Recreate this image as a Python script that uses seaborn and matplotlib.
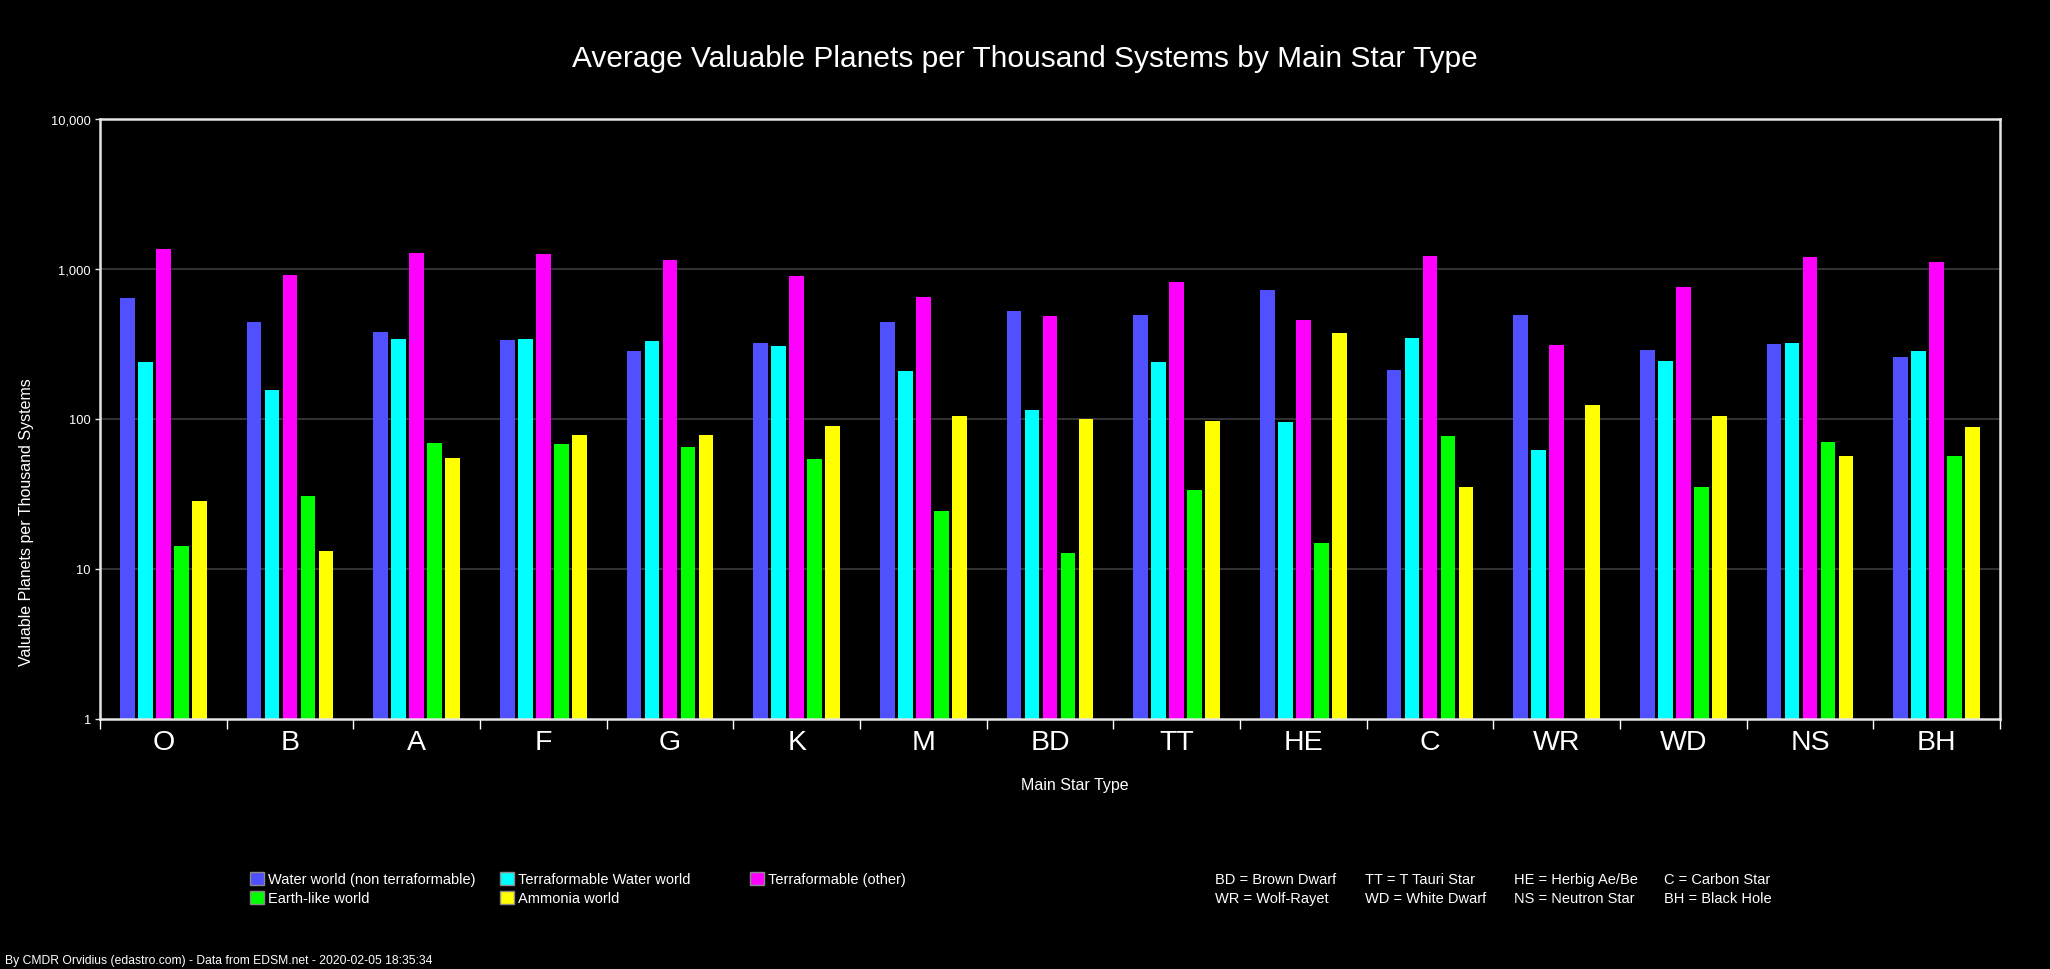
import numpy as np
import pandas as pd
import matplotlib
matplotlib.use("Agg")
import matplotlib.pyplot as plt
from matplotlib.ticker import FixedLocator, FuncFormatter, NullLocator
from matplotlib.patches import Patch
import seaborn as sns

# ---------------- data ----------------
star_types = ["O", "B", "A", "F", "G", "K", "M", "BD", "TT", "HE", "C", "WR", "WD", "NS", "BH"]
series_names = ["Water world (non terraformable)", "Terraformable Water world",
                "Terraformable (other)", "Earth-like world", "Ammonia world"]
water_world = [644, 445, 382, 338, 285, 323, 445, 527, 496, 728, 213, 496, 290, 318, 260]
terraformable_water = [241, 157, 343, 343, 333, 308, 210, 115, 241, 96, 348, 62.4, 245, 323, 285]
terraformable_other = [1365, 916, 1283, 1265, 1153, 902, 653, 488, 823, 459, 1227, 313, 762, 1208, 1118]
earth_like = [14.3, 30.8, 69.5, 68.4, 65.3, 54.4, 24.5, 12.8, 33.8, 15.0, 77.4, np.nan, 35.4, 70.6, 56.9]
ammonia = [28.5, 13.2, 55.2, 78.5, 78.5, 90.2, 105, 100, 97.5, 376, 35.4, 124, 105, 56.9, 88.9]
series_colors = ["#5050FF", "#00FFFF", "#FF00FF", "#00FF00", "#FFFF00"]
y_ticks = [1, 10, 100, 1000, 10000]
abbrev_row1 = ["BD = Brown Dwarf", "TT = T Tauri Star", "HE = Herbig Ae/Be", "C = Carbon Star"]
abbrev_row2 = ["WR = Wolf-Rayet", "WD = White Dwarf", "NS = Neutron Star", "BH = Black Hole"]

title = "Average Valuable Planets per Thousand Systems by Main Star Type"
y_label = "Valuable Planets per Thousand Systems"
x_label = "Main Star Type"
footer = "By CMDR Orvidius (edastro.com) - Data from EDSM.net - 2020-02-05 18:35:34"

series_values = [water_world, terraformable_water, terraformable_other, earth_like, ammonia]
rows = []
for name, vals in zip(series_names, series_values):
    for st, v in zip(star_types, vals):
        rows.append({"star": st, "series": name, "value": v})
df = pd.DataFrame(rows)

# ---------------- style ----------------
sns.set_style("dark")
plt.rcParams["font.family"] = ["Liberation Sans", "DejaVu Sans"]
plt.rcParams["text.color"] = "white"

W, H = 2050, 970
fig = plt.figure(figsize=(W / 100, H / 100), dpi=100, facecolor="black")
ax = fig.add_axes([100 / W, 1 - 720 / H, 1900 / W, 600 / H])
ax.set_facecolor("black")

sns.barplot(data=df, x="star", y="value", hue="series", order=star_types,
            hue_order=series_names, palette=series_colors, saturation=1,
            width=0.71, gap=0.17, log_scale=True, linewidth=0, ax=ax,
            legend=False, errorbar=None)

ax.set_yscale("log")
ax.set_ylim(1, 10000)
ax.set_xlim(-0.5, len(star_types) - 0.5)

# grid
ax.yaxis.set_major_locator(FixedLocator(y_ticks))
ax.yaxis.set_minor_locator(NullLocator())
ax.yaxis.set_major_formatter(FuncFormatter(lambda v, p: f"{v:,.0f}"))
ax.grid(False)
ax.set_axisbelow(True)
for yv in y_ticks[1:-1]:
    ax.axhline(yv, color="#3c3c3c", lw=1.2, zorder=0)

# spines
for sp in ax.spines.values():
    sp.set_visible(True)
    sp.set_color("#e6e6e6")
    sp.set_linewidth(1.8)

ax.tick_params(axis="y", which="major", length=3.6, width=1, color="#e6e6e6",
               labelcolor="white", labelsize=9.3, pad=3, left=True)

ax.set_xticks(range(len(star_types)))
ax.set_xticklabels(star_types)
ax.tick_params(axis="x", which="major", length=0, pad=7.5, labelsize=20.5,
               labelcolor="white")
ax.set_xticks(np.arange(-0.5, len(star_types), 1), minor=True)
ax.tick_params(axis="x", which="minor", length=7.2, width=1, color="white",
               direction="out", bottom=True)

ax.set_xlabel("")
ax.set_ylabel("")

# titles and labels
fig.text(1025 / W, 1 - 59 / H, title, ha="center", va="center", fontsize=21.5, color="white")
fig.text(27 / W, 1 - 522 / H, y_label, ha="center", va="center", rotation=90,
         fontsize=11.5, color="white")
fig.text(1075 / W, 1 - 786 / H, x_label, ha="center", va="center", fontsize=11.5, color="white")
fig.text(5 / W, 1 - 961 / H, footer, ha="left", va="center", fontsize=8.7, color="white")

# legend (three column groups)
handles = [Patch(facecolor=c, edgecolor="#8a8a8a", linewidth=1.0, label=n)
           for c, n in zip(series_colors, series_names)]
col_x = [250, 500, 750]
col_items = [[0, 3], [1, 4], [2]]
for cx, items in zip(col_x, col_items):
    fig.legend(handles=[handles[i] for i in items], loc="upper left",
               bbox_to_anchor=(cx / W, 1 - 873 / H), frameon=False,
               fontsize=10.5, handlelength=0.95, handleheight=0.95,
               handletextpad=0.25, labelspacing=0.33, borderpad=0,
               borderaxespad=0, labelcolor="white")

# abbreviation key
abbr_x = [1215, 1365, 1514, 1664]
for x, t in zip(abbr_x, abbrev_row1):
    fig.text(x / W, 1 - 880 / H, t, ha="left", va="center", fontsize=10.5, color="white")
for x, t in zip(abbr_x, abbrev_row2):
    fig.text(x / W, 1 - 899 / H, t, ha="left", va="center", fontsize=10.5, color="white")

fig.savefig("out.png", dpi=100, facecolor="black")
